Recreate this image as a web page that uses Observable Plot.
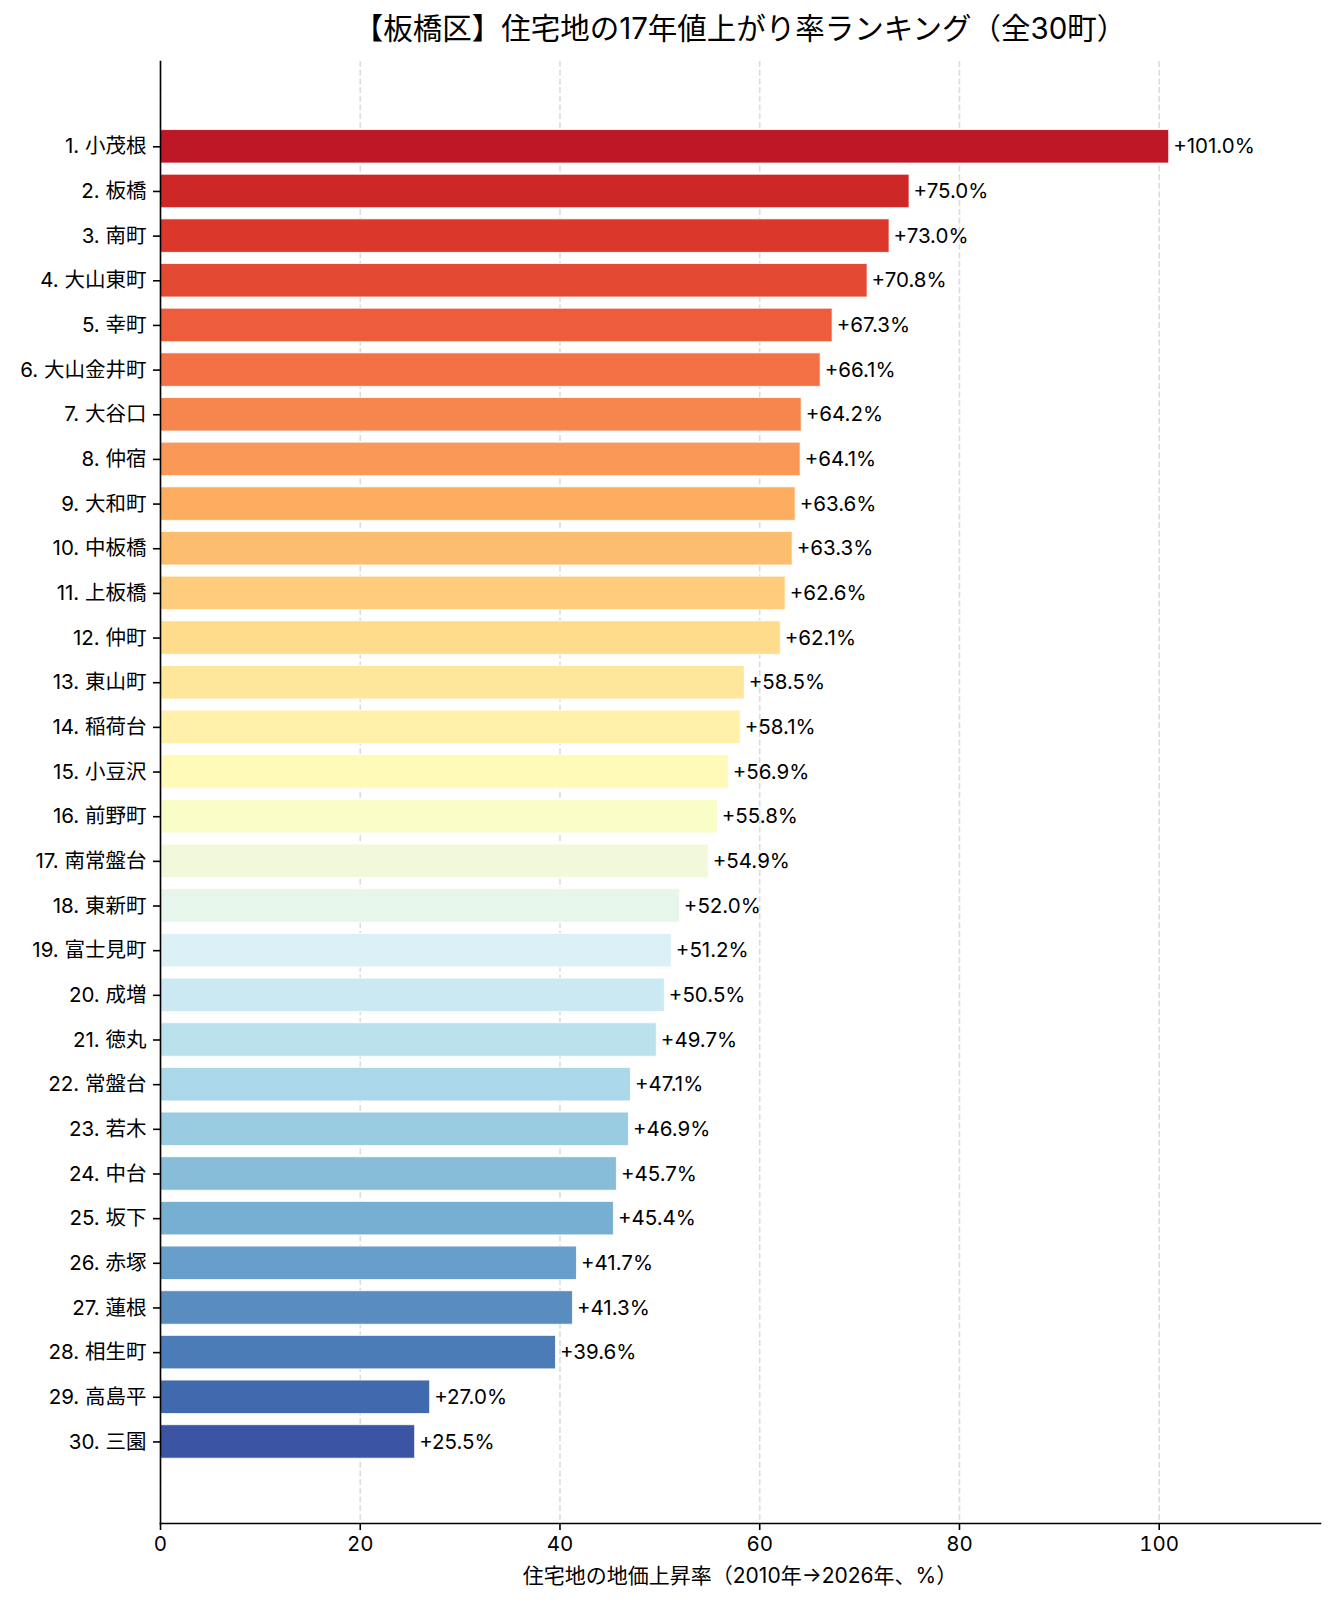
<!DOCTYPE html>
<html lang="ja">
<head>
<meta charset="utf-8">
<script src="https://cdn.jsdelivr.net/npm/d3@7"></script>
<script src="https://cdn.jsdelivr.net/npm/@observablehq/plot@0.6"></script>
<style>
  html, body { margin: 0; padding: 0; background: #fff; }
  body { font-family: Inter, "Noto Sans CJK JP", "Noto Sans", sans-serif; color: #000; }
  #wrap { width: 1335px; }
  #title {
    box-sizing: border-box;
    padding-left: 160px;
    width: 1320px;
    height: 56px;
    line-height: 56px;
    text-align: center;
    font-size: 29.5px;
    font-weight: 400;
    white-space: nowrap;
  }
  #xlabel {
    box-sizing: border-box;
    padding-left: 160px;
    width: 1320px;
    height: 26px;
    line-height: 26px;
    text-align: center;
    font-size: 21px;
    white-space: nowrap;
  }
  svg { display: block; }
</style>
</head>
<body>
<div id="wrap">
  <div id="title">【板橋区】住宅地の17年値上がり率ランキング（全30町）</div>
  <div id="chart"></div>
  <div id="xlabel">住宅地の地価上昇率（2010年→2026年、%）</div>
</div>
<script>
// Town names, ranked by residential land-price growth 2010 → 2026
const towns = [
  "小茂根", "板橋", "南町", "大山東町", "幸町", "大山金井町", "大谷口", "仲宿", "大和町", "中板橋",
  "上板橋", "仲町", "東山町", "稲荷台", "小豆沢", "前野町", "南常盤台", "東新町", "富士見町", "成増",
  "徳丸", "常盤台", "若木", "中台", "坂下", "赤塚", "蓮根", "相生町", "高島平", "三園"
];

// Growth rate (%) for each town, same order
const growth = [
  101.0, 75.0, 73.0, 70.8, 67.3, 66.1, 64.2, 64.1, 63.6, 63.3,
  62.6, 62.1, 58.5, 58.1, 56.9, 55.8, 54.9, 52.0, 51.2, 50.5,
  49.7, 47.1, 46.9, 45.7, 45.4, 41.7, 41.3, 39.6, 27.0, 25.5
];

// x-axis ticks
const xTicks = [0, 20, 40, 60, 80, 100];

// RdYlBu stops (ColorBrewer 11-class), interpolated linearly
const rdylbuStops = ["#a50026", "#d73027", "#f46d43", "#fdae61", "#fee090", "#ffffbf",
                     "#e0f3f8", "#abd9e9", "#74add1", "#4575b4", "#313695"];
const rdylbu = d3.scaleLinear()
  .domain(rdylbuStops.map((_, i) => i / (rdylbuStops.length - 1)))
  .range(rdylbuStops)
  .interpolate(d3.interpolateRgb);

const rows = towns.map((name, i) => ({
  label: `${i + 1}. ${name}`,
  value: growth[i],
  color: rdylbu(0.05 + 0.9 * i / (towns.length - 1))
}));

const xMax = d3.max(growth) * 1.15;
// Latin digits from Inter, kanji from Noto Sans CJK JP
const font = 'Inter, "Noto Sans CJK JP", "Noto Sans", sans-serif';

const chart = Plot.plot({
  width: 1335,
  height: 1507,
  marginTop: 5,
  marginBottom: 40,
  marginLeft: 160,
  marginRight: 15,
  style: { fontFamily: font, fontSize: "20.5px", color: "#000", background: "#fff" },
  x: { domain: [0, xMax], ticks: xTicks },
  y: { domain: rows.map(d => d.label), paddingInner: 0.25, paddingOuter: 1.493, align: 0.514, round: false },
  color: { type: "identity" },
  marks: [
    Plot.gridX(xTicks, { stroke: "#dcdcdc", strokeOpacity: 1, strokeWidth: 1.6, strokeDasharray: "6,2.7" }),
    Plot.barX(rows, {
      x: "value", y: "label", fill: "color",
      stroke: "#fff", strokeWidth: 1, strokeOpacity: 0.8
    }),
    Plot.text(rows, {
      x: "value", y: "label",
      text: d => `+${d.value.toFixed(1)}%`,
      textAnchor: "start", dx: 4, fontSize: 20.5, fill: "#000"
    }),
    Plot.axisY({ label: null, tickSize: 7, tickPadding: 7, strokeWidth: 1.6, stroke: "#000", fontSize: 20.5 }),
    Plot.axisX({ ticks: xTicks, label: null, tickSize: 7, tickPadding: 6, strokeWidth: 1.6, stroke: "#000", fontSize: 20.5 }),
    Plot.frame({ anchor: "left", stroke: "#000", strokeWidth: 1.6 }),
    Plot.frame({ anchor: "bottom", stroke: "#000", strokeWidth: 1.6 })
  ]
});

document.getElementById("chart").appendChild(chart);
</script>
</body>
</html>
